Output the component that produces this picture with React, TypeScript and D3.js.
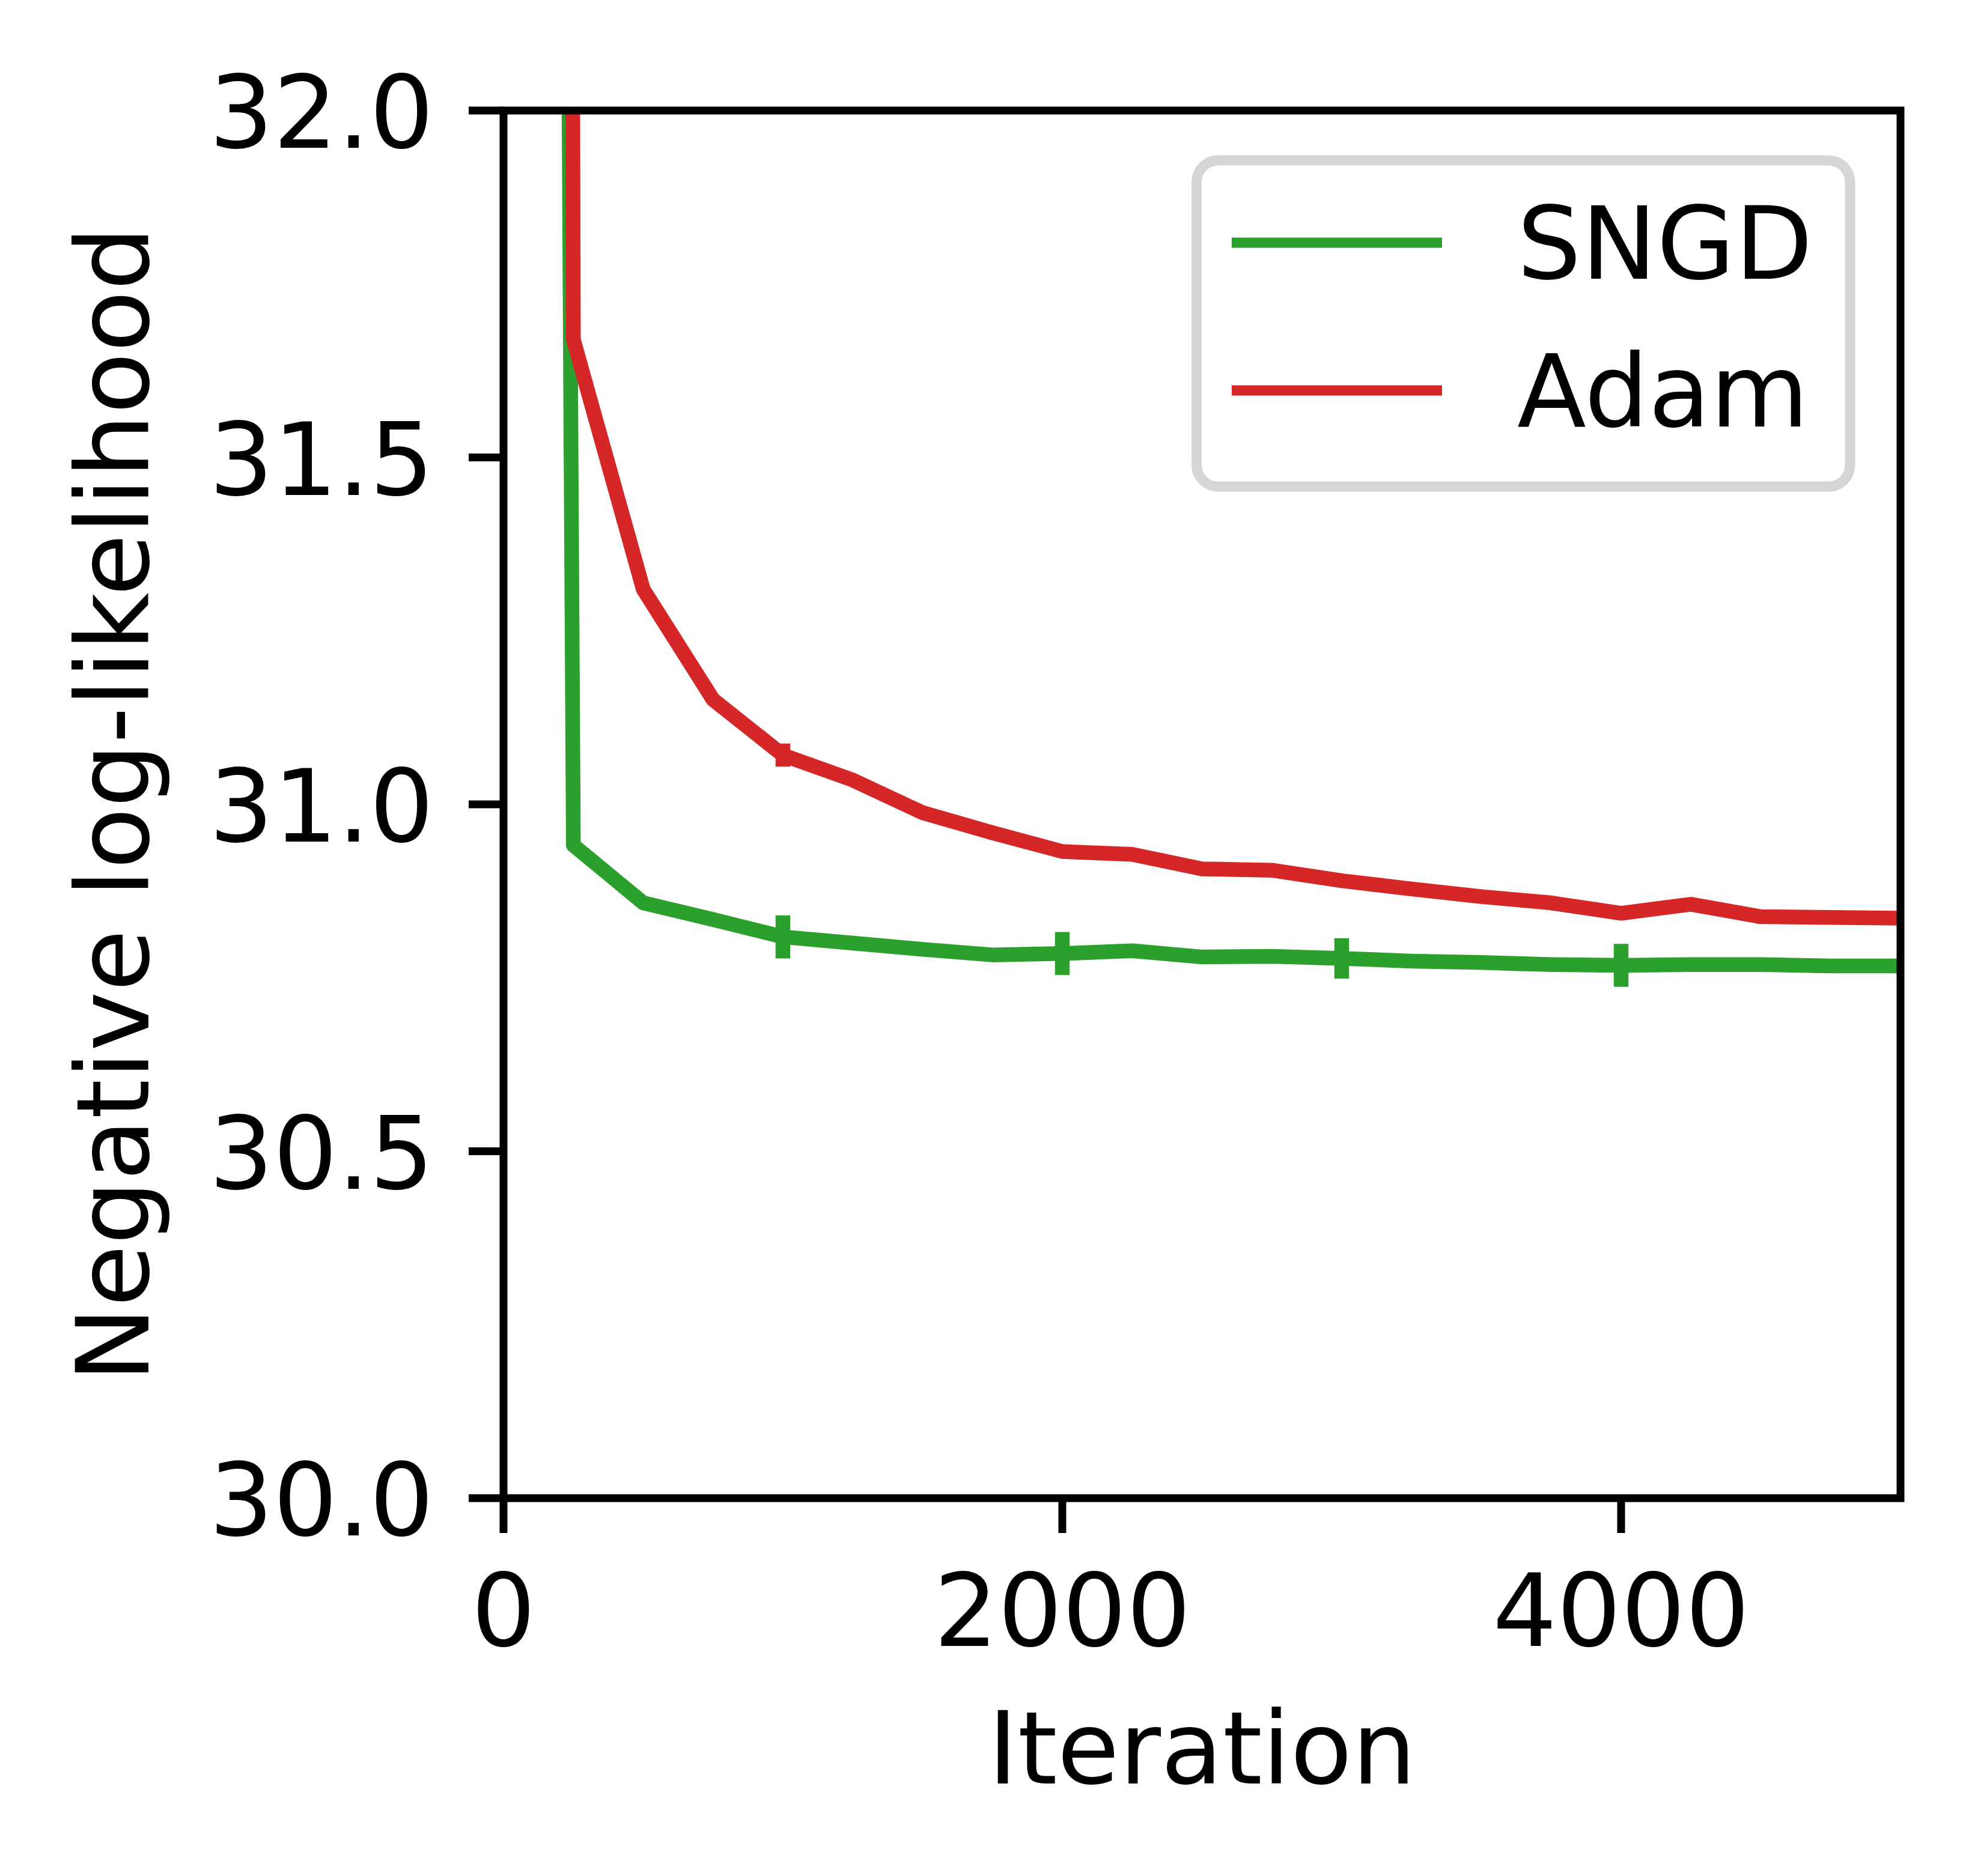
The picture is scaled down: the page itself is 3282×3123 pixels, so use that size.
import { useEffect, useRef } from 'react';
import * as d3 from 'd3';

// training curves, one point every 250 iterations (first point is the huge initial loss)
const iterations = [
  0, 250, 500, 750, 1000, 1250, 1500, 1750, 2000, 2250, 2500,
  2750, 3000, 3250, 3500, 3750, 4000, 4250, 4500, 4750, 5000,
];
const sngdValues = [
  48.0, 30.941, 30.858, 30.834, 30.809, 30.800, 30.791, 30.783, 30.785, 30.789, 30.780,
  30.781, 30.778, 30.774, 30.772, 30.769, 30.768, 30.769, 30.769, 30.767, 30.767,
];
const adamValues = [
  70.0, 31.670, 31.310, 31.151, 31.071, 31.035, 30.988, 30.959, 30.932, 30.928, 30.907,
  30.905, 30.890, 30.878, 30.867, 30.858, 30.843, 30.856, 30.838, 30.837, 30.836,
];
// error bars drawn at every 4th point
const errorIterations = [1000, 2000, 3000, 4000];
const sngdErrors = [0.031, 0.031, 0.029, 0.031];
const adamErrors = [0.0167, 0.006, 0.005, 0.004];

const seriesNames = ['SNGD', 'Adam'];
const seriesColors = ['#2ca02c', '#d62728'];

const xTicks = [0, 2000, 4000];
const yTicks = [30.0, 30.5, 31.0, 31.5, 32.0];

const width = 3282;
const height = 3123;

export default function App() {
  const svgRef = useRef<SVGSVGElement>(null);

  useEffect(() => {
    if (!svgRef.current) return;
    const svg = d3.select(svgRef.current);
    svg.selectAll('*').remove();

    const left = 838;
    const right = 3163;
    const top = 184;
    const bottom = 2494;
    const fontSize = 168;
    const font = 'DejaVu Sans';

    const x = d3.scaleLinear().domain([0, 5000]).range([left, right]);
    const y = d3.scaleLinear().domain([30, 32]).range([bottom, top]);

    svg.append('rect')
      .attr('width', width)
      .attr('height', height)
      .attr('fill', '#fff');

    svg.append('defs')
      .append('clipPath')
      .attr('id', 'plot-clip')
      .append('rect')
      .attr('x', left)
      .attr('y', top)
      .attr('width', right - left)
      .attr('height', bottom - top);

    const plot = svg.append('g').attr('clip-path', 'url(#plot-clip)');

    const series = [
      { values: sngdValues, errors: sngdErrors },
      { values: adamValues, errors: adamErrors },
    ];

    series.forEach((s, i) => {
      const pts = iterations.map((it, k) => [it, s.values[k]] as [number, number]);
      const line = d3.line<[number, number]>()
        .x(d => x(d[0]))
        .y(d => y(d[1]));

      plot.append('path')
        .attr('d', line(pts))
        .attr('fill', 'none')
        .attr('stroke', seriesColors[i])
        .attr('stroke-width', 24.5)
        .attr('stroke-linejoin', 'round')
        .attr('stroke-linecap', 'square');

      plot.selectAll(`.err-${i}`)
        .data(errorIterations)
        .join('line')
        .attr('class', `err-${i}`)
        .attr('x1', d => x(d))
        .attr('x2', d => x(d))
        .attr('y1', (d, k) => y(s.values[iterations.indexOf(d)] - s.errors[k]))
        .attr('y2', (d, k) => y(s.values[iterations.indexOf(d)] + s.errors[k]))
        .attr('stroke', seriesColors[i])
        .attr('stroke-width', 24.5);
    });

    // spines
    svg.append('rect')
      .attr('x', left)
      .attr('y', top)
      .attr('width', right - left)
      .attr('height', bottom - top)
      .attr('fill', 'none')
      .attr('stroke', '#000')
      .attr('stroke-width', 13)
      .attr('stroke-linejoin', 'miter');

    // x ticks
    const xAxis = svg.append('g');
    xTicks.forEach(t => {
      xAxis.append('line')
        .attr('x1', x(t)).attr('x2', x(t))
        .attr('y1', bottom).attr('y2', bottom + 58)
        .attr('stroke', '#000')
        .attr('stroke-width', 13);
      xAxis.append('text')
        .attr('x', x(t))
        .attr('y', 2740)
        .attr('text-anchor', 'middle')
        .attr('font-family', font)
        .attr('font-size', fontSize)
        .text(String(t));
    });

    // y ticks
    const yAxis = svg.append('g');
    yTicks.forEach(t => {
      yAxis.append('line')
        .attr('x1', left - 58).attr('x2', left)
        .attr('y1', y(t)).attr('y2', y(t))
        .attr('stroke', '#000')
        .attr('stroke-width', 13);
      yAxis.append('text')
        .attr('x', left - 116)
        .attr('y', y(t) + 62)
        .attr('text-anchor', 'end')
        .attr('font-family', font)
        .attr('font-size', fontSize)
        .text(t.toFixed(1));
    });

    // axis labels
    svg.append('text')
      .attr('x', (left + right) / 2)
      .attr('y', 2969)
      .attr('text-anchor', 'middle')
      .attr('font-family', font)
      .attr('font-size', fontSize)
      .text('Iteration');

    svg.append('text')
      .attr('transform', `translate(247,${(top + bottom) / 2}) rotate(-90)`)
      .attr('text-anchor', 'middle')
      .attr('font-family', font)
      .attr('font-size', fontSize)
      .text('Negative log-likelihood');

    // legend
    const legend = svg.append('g');
    legend.append('rect')
      .attr('x', 1991.5)
      .attr('y', 267)
      .attr('width', 1087.5)
      .attr('height', 543)
      .attr('rx', 36)
      .attr('fill', '#fff')
      .attr('stroke', '#d6d6d6')
      .attr('stroke-width', 17);

    const rowY = [404, 650];
    seriesNames.forEach((name, i) => {
      legend.append('line')
        .attr('x1', 2050).attr('x2', 2400)
        .attr('y1', rowY[i]).attr('y2', rowY[i])
        .attr('stroke', seriesColors[i])
        .attr('stroke-width', 17);
      legend.append('text')
        .attr('x', 2525)
        .attr('y', rowY[i] + 60)
        .attr('font-family', font)
        .attr('font-size', fontSize)
        .text(name);
    });
  }, []);

  return (
    <svg
      ref={svgRef}
      width={width}
      height={height}
      style={{ position: 'absolute', left: 0, top: 0, display: 'block' }}
    />
  );
}
